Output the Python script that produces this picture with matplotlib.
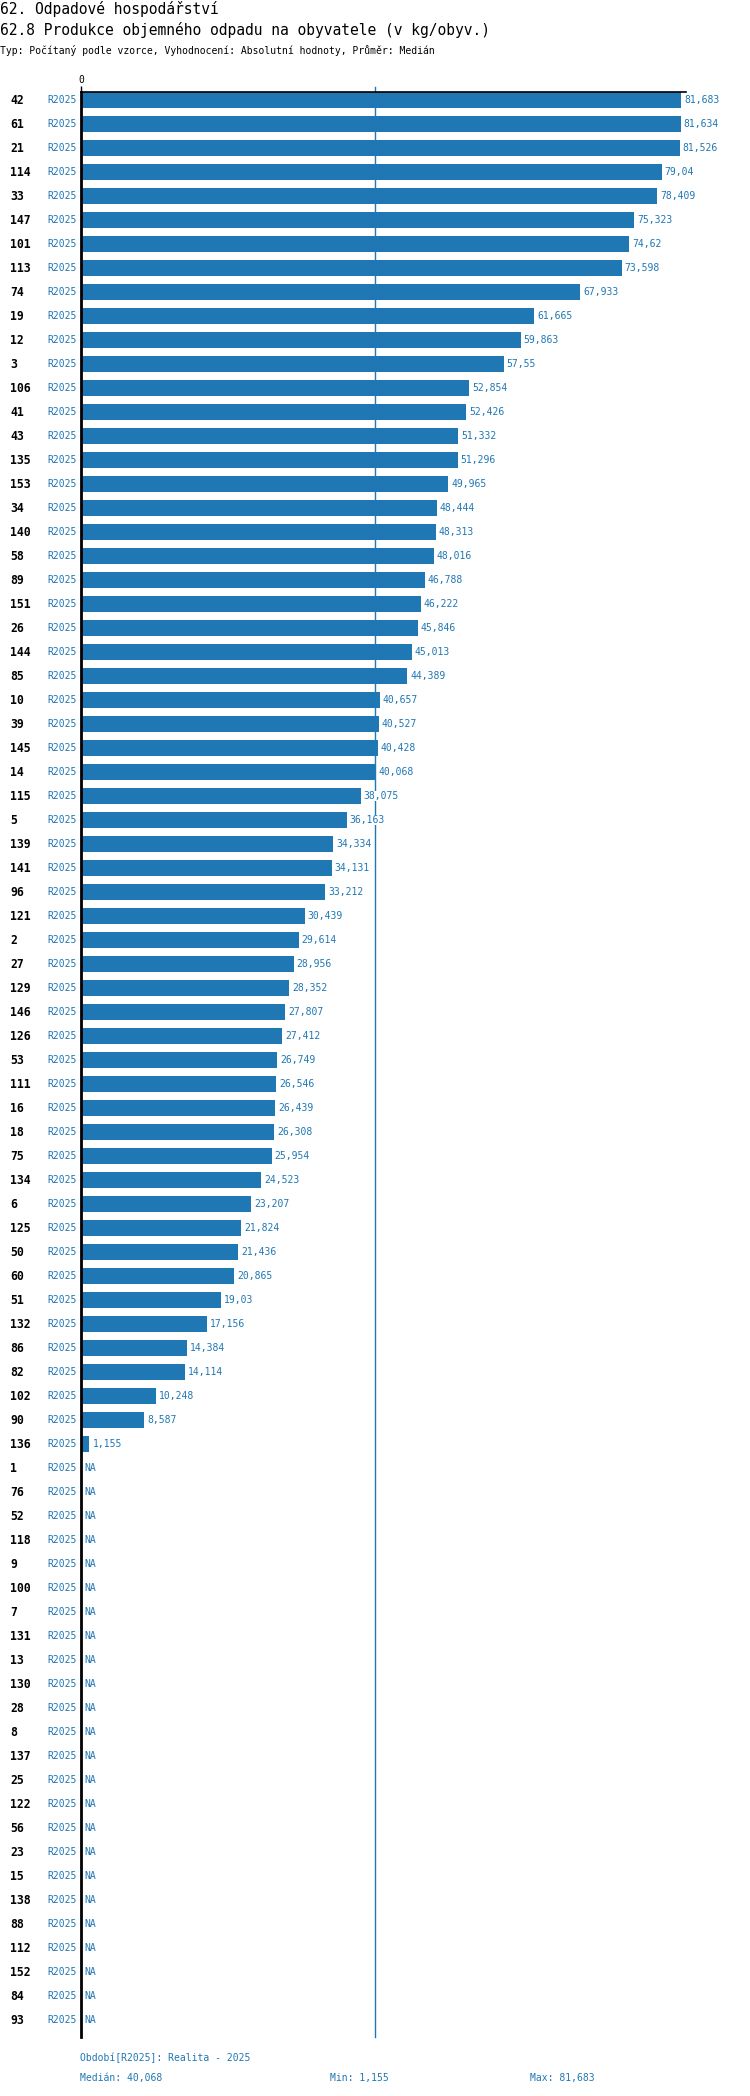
import matplotlib
matplotlib.use("Agg")
import matplotlib.pyplot as plt
import numpy as np

plt.rcParams['font.family'] = ['DejaVu Sans Mono']

# data
regions = [42, 61, 21, 114, 33, 147, 101, 113, 74, 19, 12, 3, 106, 41, 43, 135,
           153, 34, 140, 58, 89, 151, 26, 144, 85, 10, 39, 145, 14, 115, 5, 139,
           141, 96, 121, 2, 27, 129, 146, 126, 53, 111, 16, 18, 75, 134, 6, 125,
           50, 60, 51, 132, 86, 82, 102, 90, 136,
           1, 76, 52, 118, 9, 100, 7, 131, 13, 130, 28, 8, 137, 25, 122, 56, 23,
           15, 138, 88, 112, 152, 84, 93]
values = [81.683, 81.634, 81.526, 79.04, 78.409, 75.323, 74.62, 73.598, 67.933,
          61.665, 59.863, 57.55, 52.854, 52.426, 51.332, 51.296, 49.965, 48.444,
          48.313, 48.016, 46.788, 46.222, 45.846, 45.013, 44.389, 40.657, 40.527,
          40.428, 40.068, 38.075, 36.163, 34.334, 34.131, 33.212, 30.439, 29.614,
          28.956, 28.352, 27.807, 27.412, 26.749, 26.546, 26.439, 26.308, 25.954,
          24.523, 23.207, 21.824, 21.436, 20.865, 19.03, 17.156, 14.384, 14.114,
          10.248, 8.587, 1.155] + [np.nan] * 24
period = "R2025"
median_val = 40.068
min_val = 1.155
max_val = 81.683

blue = '#1f77b4'
W, H = 750, 2096


def fmt(v):
    return f"{v:.3f}".rstrip('0').rstrip('.').replace('.', ',')


fig = plt.figure(figsize=(W / 100, H / 100), dpi=100)
ax_left, ax_right, ax_top, ax_bot = 81, 686, 92, 2037
ax = fig.add_axes([ax_left / W, 1 - ax_bot / H, (ax_right - ax_left) / W,
                   (ax_bot - ax_top) / H])

n = len(regions)
y = np.arange(n)
vals = np.array(values, dtype=float)
ax.barh(y, np.nan_to_num(vals), height=0.667, color=blue, zorder=2)

xmax = max_val * (ax_right - ax_left) / 600
ax.set_xlim(0, xmax)
ax.set_ylim(n - 1 + 17 / 24, -1 / 3)

ax.axvline(median_val, ymin=0, ymax=1 + 5 / (ax_bot - ax_top), color=blue,
           lw=1, zorder=1, clip_on=False)

for s in ['right', 'bottom']:
    ax.spines[s].set_visible(False)
ax.spines['left'].set_linewidth(2)
ax.spines['top'].set_linewidth(1.2)
ax.spines['left'].set_zorder(3)
ax.set_yticks([])
ax.xaxis.tick_top()
ax.set_xticks([0])
ax.set_xticklabels(['0'])
ax.tick_params(axis='x', length=4, width=1, pad=1, labelsize=7)

ytr = ax.get_yaxis_transform()
aw = ax_right - ax_left
for i, (r, v) in enumerate(zip(regions, vals)):
    ax.text((10 - ax_left) / aw, i, str(r), transform=ytr, ha='left',
            va='center', fontsize=8.3, fontweight='bold', color='black',
            clip_on=False)
    ax.text((47 - ax_left) / aw, i, period, transform=ytr, ha='left',
            va='center', fontsize=7, color=blue, clip_on=False)
    if np.isnan(v):
        ax.text(3 / aw * xmax, i, 'NA', ha='left', va='center', fontsize=7,
                color=blue, zorder=4,
                bbox=dict(facecolor='white', edgecolor='none', pad=0.3))
    else:
        ax.text(v + 3 / aw * xmax, i, fmt(v), ha='left', va='center',
                fontsize=7, color=blue, zorder=4,
                bbox=dict(facecolor='white', edgecolor='none', pad=0.3))

# titles
fig.text(0 / W, 1 - 9 / H, "62. Odpadové hospodářství", ha='left',
         va='center', fontsize=10.5)
fig.text(0 / W, 1 - 30 / H,
         "62.8 Produkce objemného odpadu na obyvatele (v kg/obyv.)",
         ha='left', va='center', fontsize=10.5)
fig.text(0 / W, 1 - 51 / H,
         "Typ: Počítaný podle vzorce, Vyhodnocení: Absolutní hodnoty, Průměr: Medián",
         ha='left', va='center', fontsize=7)

# footer
fig.text(80 / W, 1 - 2058 / H, f"Období[{period}]: Realita - 2025",
         ha='left', va='center', fontsize=7, color=blue)
fig.text(80 / W, 1 - 2078 / H, f"Medián: {fmt(median_val)}",
         ha='left', va='center', fontsize=7, color=blue)
fig.text(330 / W, 1 - 2078 / H, f"Min: {fmt(min_val)}",
         ha='left', va='center', fontsize=7, color=blue)
fig.text(530 / W, 1 - 2078 / H, f"Max: {fmt(max_val)}",
         ha='left', va='center', fontsize=7, color=blue)

fig.savefig('out.png', dpi=100, facecolor='white')
